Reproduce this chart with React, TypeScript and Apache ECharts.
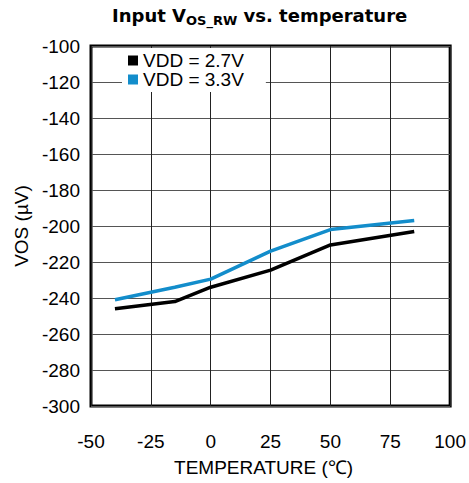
import React, { useEffect, useRef } from "react";
import * as echarts from "echarts";

const temps27 = [-40, -15, 0, 25, 50, 85];
const vos27 = [-246, -242, -234, -224.5, -210.5, -203];
const temps33 = [-40, -15, 0, 25, 50, 85];
const vos33 = [-241, -234, -229.5, -214, -202, -197];
const seriesNames = ["VDD = 2.7V", "VDD = 3.3V"];
const seriesColors = ["#000000", "#138dcb"];
const xTicks = { min: -50, max: 100, interval: 25 };
const yTicks = { min: -300, max: -100, interval: 20 };

const FONT = "Liberation Sans, Arial, sans-serif";

export default function App() {
  const ref = useRef<HTMLDivElement>(null);
  useEffect(() => {
    if (!ref.current) return;
    const chart = echarts.init(ref.current, null, { renderer: "svg" });
    const pair = (xs: number[], ys: number[]) => xs.map((x, i) => [x, ys[i]]);
    chart.setOption({
      animation: false,
      backgroundColor: "#fff",
      title: {
        text: "{a|Input V}{b|OS_RW}{a| vs. temperature}",
        left: 112,
        top: 4,
        padding: 0,
        textStyle: {
          rich: {
            a: { fontFamily: "DejaVu Sans", fontWeight: "bold", fontSize: 18, color: "#000", lineHeight: 23 },
            b: { fontFamily: "DejaVu Sans", fontWeight: "bold", fontSize: 13, color: "#000", lineHeight: 23, padding: [9, 0, 0, 0] },
          },
        },
      },
      legend: {
        orient: "vertical",
        left: 122,
        top: 48,
        padding: [3, 22, 3, 6],
        itemGap: 0,
        itemWidth: 10,
        itemHeight: 10,
        icon: "rect",
        backgroundColor: "#fff",
        textStyle: { fontFamily: FONT, fontSize: 19, color: "#000", lineHeight: 19 },
        data: seriesNames,
      },
      grid: {
        left: 91,
        right: 18,
        top: 46,
        bottom: 77,
        show: true,
        borderColor: "#000",
        borderWidth: 3,
        backgroundColor: "transparent",
      },
      xAxis: {
        type: "value",
        min: xTicks.min,
        max: xTicks.max,
        interval: xTicks.interval,
        name: "TEMPERATURE (℃)",
        nameLocation: "middle",
        nameGap: 52,
        nameTextStyle: { fontFamily: FONT, fontSize: 19, color: "#000", padding: [0, 14, 0, 0] },
        axisLine: { show: false },
        axisTick: { show: false },
        axisLabel: { fontFamily: FONT, fontSize: 19, color: "#000", margin: 26 },
        splitLine: { show: true, lineStyle: { color: "#222", width: 1 } },
      },
      yAxis: {
        type: "value",
        min: yTicks.min,
        max: yTicks.max,
        interval: yTicks.interval,
        name: "VOS (µV)",
        nameLocation: "middle",
        nameGap: 59,
        nameTextStyle: { fontFamily: FONT, fontSize: 19, color: "#000" },
        axisLine: { show: false },
        axisTick: { show: false },
        axisLabel: { fontFamily: FONT, fontSize: 19, color: "#000", margin: 11 },
        splitLine: { show: true, lineStyle: { color: "#555", width: 1 } },
      },
      series: [
        {
          name: seriesNames[0],
          type: "line",
          data: pair(temps27, vos27),
          symbol: "none",
          color: seriesColors[0],
          lineStyle: { width: 3.5, color: seriesColors[0] },
          z: 3,
        },
        {
          name: seriesNames[1],
          type: "line",
          data: pair(temps33, vos33),
          symbol: "none",
          color: seriesColors[1],
          lineStyle: { width: 3.5, color: seriesColors[1] },
          z: 3,
        },
      ],
    });
    return () => chart.dispose();
  }, []);
  return <div ref={ref} style={{ width: 469, height: 483, position: "absolute", left: 0, top: 0 }} />;
}
